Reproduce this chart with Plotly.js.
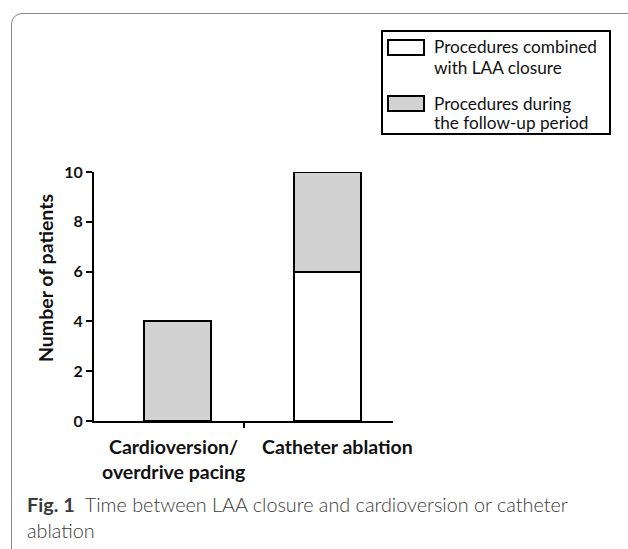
<!DOCTYPE html>
<html>
<head>
<meta charset="utf-8">
<script src="https://cdn.plot.ly/plotly-3.0.1.min.js"></script>
<style>
html,body{margin:0;padding:0;background:#fff;}
#frame{position:absolute;left:11px;top:13px;width:640px;height:560px;border:1.5px solid #888;border-radius:11px;box-sizing:border-box;}
#chart{position:absolute;left:0;top:0;width:628px;height:549px;}
</style>
</head>
<body>
<div id="frame"></div>
<div id="chart"></div>
<script>
const categories = ["Cardioversion/<br>overdrive pacing", "Catheter ablation"];
const seriesNames = ["Procedures combined<br>with LAA closure", "Procedures during<br>the follow-up period"];
const combinedWithLAA = [0, 6];
const duringFollowUp = [4, 4];
const yTicks = [0, 2, 4, 6, 8, 10];
const yTitle = "Number of patients";
const captionBold = "Fig. 1";
const captionText = "Time between LAA closure and cardioversion or catheter<br>ablation";
const colors = ["#ffffff", "#d1d2d1"];

const W = 628, H = 549;
const px = v => v / W;
const py = v => 1 - v / H;
const xIdx = categories.map((c, i) => i);

const traceBase = {
  type: 'bar', width: 0.446, cliponaxis: false, showlegend: false, hoverinfo: 'y'
};
const traces = [
  Object.assign({}, traceBase, {x: xIdx, y: combinedWithLAA, name: seriesNames[0],
    marker: {color: colors[0], line: {color: '#000', width: 2}}}),
  Object.assign({}, traceBase, {x: xIdx, y: duringFollowUp, name: seriesNames[1],
    marker: {color: colors[1], line: {color: '#000', width: 2}}})
];

const font = "Lato, 'Open Sans', sans-serif";
const xr = [-0.56, 1.44];

const annotations = [];
// y-axis title (placed as in the reference, above the axis centre)
annotations.push({xref: 'paper', yref: 'paper', x: px(45), y: py(278), xanchor: 'center', yanchor: 'middle',
  textangle: -90, text: yTitle, showarrow: false, font: {family: font, size: 19.5, color: '#111', weight: 700}});
// category labels (one annotation per line)
const labelShift = [-4, 10];
const labelLineY = [446, 471];
categories.forEach((c, i) => {
  c.split('<br>').forEach((line, j) => {
    annotations.push({xref: 'x', yref: 'paper', x: i, y: py(labelLineY[j]), yanchor: 'middle', xanchor: 'center',
      xshift: labelShift[i], text: line, showarrow: false,
      font: {family: font, size: 19.5, color: '#111', weight: 700}});
  });
});
// legend texts
const legendLineY = [[47, 67], [103, 122]];
seriesNames.forEach((n, i) => {
  n.split('<br>').forEach((line, j) => {
    annotations.push({xref: 'paper', yref: 'paper', x: px(432), y: py(legendLineY[i][j]), xanchor: 'left', yanchor: 'middle',
      text: line, showarrow: false, font: {family: font, size: 17.2, color: '#111'}});
  });
});
// caption
const capLineY = [504, 530];
captionText.split('<br>').forEach((line, j) => {
  annotations.push({xref: 'paper', yref: 'paper', x: px(25), y: py(capLineY[j]), xanchor: 'left', yanchor: 'middle',
    text: (j === 0 ? '<b>' + captionBold + '</b>  ' : '') + line, showarrow: false,
    font: {family: font, size: 19.8, color: '#3a3a3a', weight: 300}});
});

const shapes = [
  {type: 'rect', xref: 'paper', yref: 'paper', x0: px(382), x1: px(610), y0: py(31), y1: py(134),
   line: {color: '#000', width: 2}, fillcolor: 'rgba(0,0,0,0)'}
];
const swatchY = [[40, 55], [96, 111]];
swatchY.forEach((s, i) => {
  shapes.push({type: 'rect', xref: 'paper', yref: 'paper', x0: px(388), x1: px(424), y0: py(s[0]), y1: py(s[1]),
    line: {color: '#000', width: 2}, fillcolor: colors[i]});
});

const layout = {
  width: W, height: H,
  margin: {l: 0, r: 0, t: 0, b: 0},
  paper_bgcolor: 'rgba(0,0,0,0)', plot_bgcolor: 'rgba(0,0,0,0)',
  barmode: 'stack',
  showlegend: false,
  font: {family: font, color: '#111'},
  xaxis: {domain: [px(94), px(393)], range: xr, showgrid: false, zeroline: false,
    showline: true, linecolor: '#000', linewidth: 2, tickvals: [], showticklabels: false, fixedrange: true},
  xaxis2: {domain: [px(94), px(393)], range: xr, overlaying: 'x', anchor: 'y', showgrid: false, zeroline: false,
    showline: false, tickvals: [(xr[0] + xr[1]) / 2], ticktext: [''], ticks: 'outside', ticklen: 6, tickwidth: 2,
    tickcolor: '#000', showticklabels: false},
  yaxis: {domain: [py(421), py(172)], range: [0, 10], showgrid: false, zeroline: false,
    showline: true, linecolor: '#000', linewidth: 2, tickvals: yTicks, ticks: 'outside', ticklen: 6, tickwidth: 2,
    tickcolor: '#000', tickfont: {family: font, size: 16, color: '#111', weight: 700}},
  annotations: annotations,
  shapes: shapes
};
// empty trace so that xaxis2 (the single middle tick) is drawn
traces.push({type: 'scatter', x: [], y: [], xaxis: 'x2', yaxis: 'y', showlegend: false, hoverinfo: 'skip'});

Plotly.newPlot('chart', traces, layout, {displayModeBar: false, staticPlot: true});
</script>
</body>
</html>
